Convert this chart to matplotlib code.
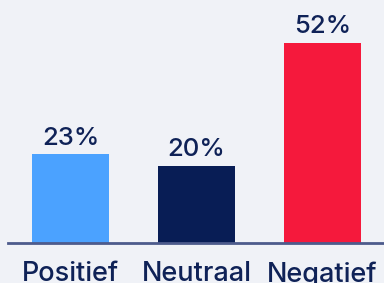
import matplotlib.pyplot as plt

categories = ["Positief", "Neutraal", "Negatief"]
values = [23, 20, 52]
labels = ["23%", "20%", "52%"]
colors = ["#4ba2ff", "#081d55", "#f5193c"]

bg = "#f0f2f7"
navy = "#0f2257"

plt.rcParams['font.family'] = ['Inter', 'DejaVu Sans']

fig = plt.figure(figsize=(3.84, 2.83), dpi=100, facecolor=bg)
ax = fig.add_axes([8 / 384, 40 / 283, 376 / 384, 243 / 283])
ax.set_facecolor(bg)

x = range(len(categories))
bars = ax.bar(x, values, width=0.611, color=colors)

for b, lab in zip(bars, labels):
    ax.annotate(lab, (b.get_x() + b.get_width() / 2, b.get_height()),
                xytext=(0, 7), textcoords="offset points",
                ha="center", va="baseline", fontsize=18.5, fontweight="medium",
                color=navy)

ax.set_xlim(-0.496, 2.488)
ax.set_ylim(0, 63.1)
ax.set_xticks(list(x))
ax.set_xticklabels(categories, fontsize=19.5, fontweight="medium", color=navy)
ax.tick_params(axis="x", length=0, pad=13)
ax.set_yticks([])

for s in ["top", "right", "left"]:
    ax.spines[s].set_visible(False)
ax.spines["bottom"].set_color("#4d5b8c")
ax.spines["bottom"].set_linewidth(2)

fig.savefig("out.png", dpi=100, facecolor=bg)
